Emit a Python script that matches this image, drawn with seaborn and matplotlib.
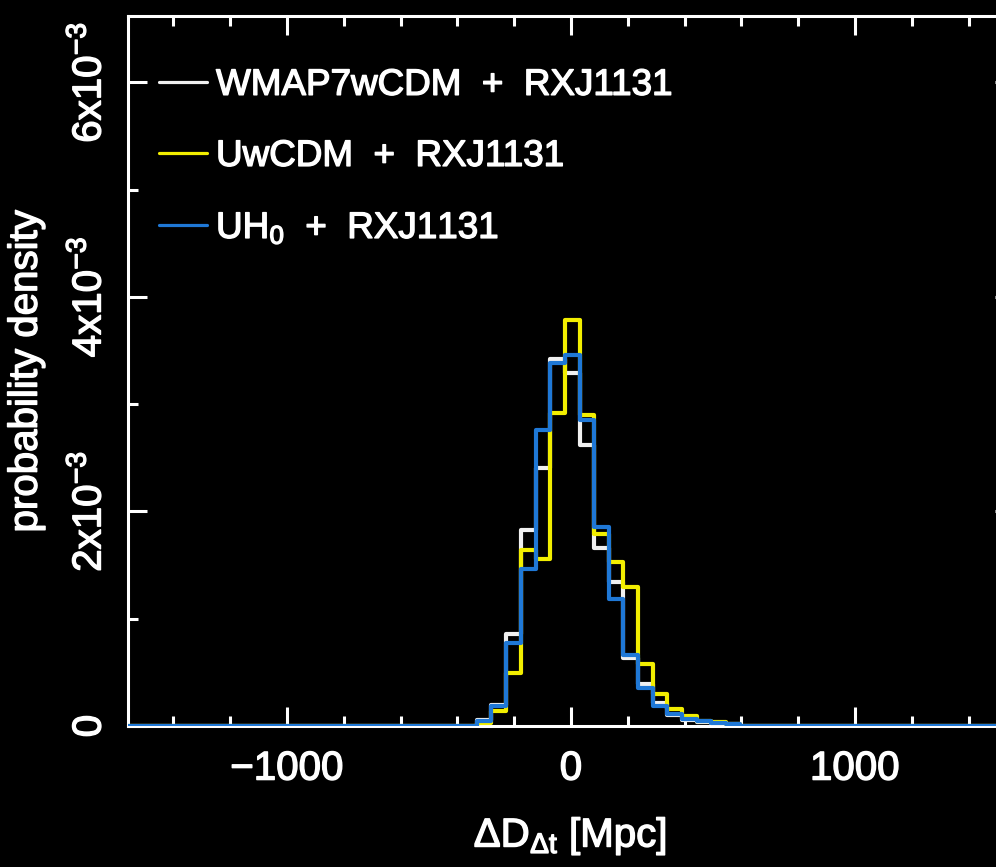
import numpy as np
import pandas as pd
import matplotlib
matplotlib.use("Agg")
import matplotlib.pyplot as plt
import matplotlib.patheffects as pe
from matplotlib.ticker import FixedLocator, MultipleLocator, FixedFormatter
import seaborn as sns

# Histogram bin edges for Delta D_dt [Mpc]; the two outermost bins are empty
ddt_edges = [-1700, -331, -280, -228, -177, -125, -74, -22, 30, 81, 133,
             184, 236, 287, 339, 390, 442, 493, 545, 596, 1700]

# Probability density per bin, in units of 1e-3 Mpc^-1
dens_wmap7 = [0.0, 0.06, 0.20, 0.86, 1.83, 2.41, 3.42, 3.29, 2.62, 1.66, 1.34,
              0.63, 0.39, 0.21, 0.10, 0.06, 0.04, 0.03, 0.015, 0.0]
dens_uwcdm = [0.0, 0.03, 0.14, 0.49, 1.64, 1.56, 2.92, 3.79, 2.90, 1.79, 1.53,
              1.30, 0.58, 0.30, 0.16, 0.09, 0.05, 0.035, 0.02, 0.0]
dens_uh0 = [0.0, 0.05, 0.19, 0.77, 1.46, 2.76, 3.38, 3.46, 2.85, 1.86, 1.18,
            0.66, 0.35, 0.19, 0.11, 0.065, 0.045, 0.03, 0.015, 0.0]

series_labels = ["WMAP7wCDM  +  RXJ1131", "UwCDM  +  RXJ1131",
                 r"UH$_0$  +  RXJ1131"]
series_colors = ["#f0f0f0", "#f2ee00", "#1f78d6"]

x_ticks = [-1000, 0, 1000]
x_tick_labels = ["\u22121000", "0", "1000"]
y_ticks = [0, 2e-3, 4e-3, 6e-3]
y_tick_labels = ["0", r"$2\mathrm{x}10^{-3}$", r"$4\mathrm{x}10^{-3}$",
                 r"$6\mathrm{x}10^{-3}$"]

sns.set_theme(style="ticks")
plt.rcParams.update({
    "font.family": ["Liberation Sans", "DejaVu Sans"],
    "mathtext.fontset": "custom",
    "mathtext.rm": "Liberation Sans",
    "mathtext.it": "Liberation Sans:italic",
    "mathtext.bf": "Liberation Sans:bold",
    "figure.facecolor": "black",
    "axes.facecolor": "black",
    "text.color": "white",
    "axes.labelcolor": "white",
    "xtick.color": "white",
    "ytick.color": "white",
})

W, H = 996, 867
fig = plt.figure(figsize=(W / 100, H / 100), dpi=100)
ax = fig.add_axes([128 / W, 1 - 726 / H, (1014 - 128) / W, (726 - 16) / H])

edges = np.array(ddt_edges, dtype=float)
centers = 0.5 * (edges[:-1] + edges[1:])

for dens, color, label in zip([dens_wmap7, dens_uwcdm, dens_uh0],
                              series_colors, series_labels):
    df = pd.DataFrame({"ddt": centers, "density": np.array(dens) * 1e-3})
    sns.histplot(data=df, x="ddt", weights="density", bins=list(ddt_edges),
                 element="step", fill=False, color=color, linewidth=3.0,
                 label=label, ax=ax, zorder=3)

ax.set_xlim(-1560, 1560)
ax.set_ylim(0, 6.62e-3)

ax.xaxis.set_major_locator(FixedLocator(x_ticks))
ax.xaxis.set_major_formatter(FixedFormatter(x_tick_labels))
ax.xaxis.set_minor_locator(MultipleLocator(200))
ax.yaxis.set_major_locator(FixedLocator(y_ticks))
ax.yaxis.set_major_formatter(FixedFormatter(y_tick_labels))
ax.yaxis.set_minor_locator(MultipleLocator(1e-3))

ax.tick_params(which="both", direction="in", top=True, right=True,
               colors="white", width=2.2, labelsize=29)
ax.tick_params(which="major", length=13.5)
ax.tick_params(which="minor", length=7.5)
ax.tick_params(axis="x", which="major", pad=17)
ax.tick_params(axis="y", which="major", pad=14, labelrotation=90)
for lbl in ax.get_yticklabels():
    lbl.set_verticalalignment("center")

for sp in ax.spines.values():
    sp.set_color("white")
    sp.set_linewidth(2.2)
    sp.set_zorder(2.5)

ax.set_xlabel(r"$\mathrm{\Delta D_{\Delta t}}$ [Mpc]", fontsize=29)
ax.set_ylabel("probability density", fontsize=29)
ax.xaxis.set_label_coords(0.499, -0.125)
ax.yaxis.set_label_coords(-0.094, 0.5)

leg = ax.legend(loc="upper left", bbox_to_anchor=(0.035, 0.927), frameon=False,
                fontsize=26.5, handlelength=1.3, handletextpad=0.25,
                labelspacing=0.98, borderaxespad=0, borderpad=0)
for t in leg.get_texts():
    t.set_color("white")
for h in leg.get_lines():
    h.set_linewidth(2.3)

# slightly heavier strokes on all lettering
heavy = [pe.withStroke(linewidth=1.0, foreground="white")]
texts = (list(leg.get_texts()) + ax.get_xticklabels() + ax.get_yticklabels()
         + [ax.xaxis.label, ax.yaxis.label])
for t in texts:
    t.set_path_effects(heavy)

fig.savefig("out.png", dpi=100, facecolor="black")
